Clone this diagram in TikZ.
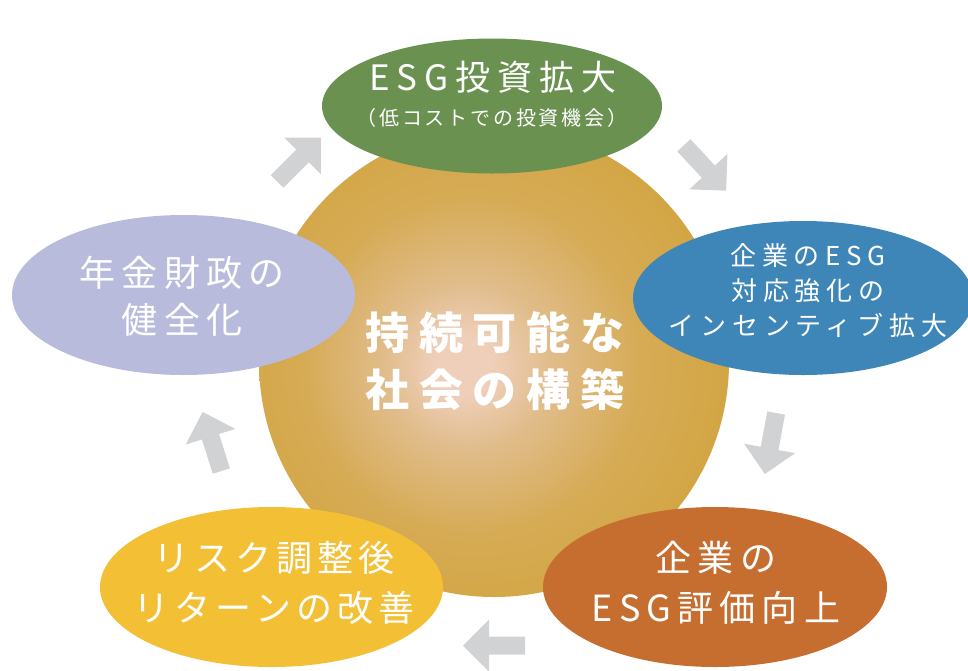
\documentclass[tikz,border=0pt]{standalone}
\usepackage{fontspec}
\usetikzlibrary{shapes.geometric}
\newfontfamily\jp{Noto Sans CJK JP}
\definecolor{cgreen}{HTML}{6A9150}
\definecolor{cblue}{HTML}{3F86B8}
\definecolor{clav}{HTML}{B9BBDC}
\definecolor{cyellow}{HTML}{F3BF35}
\definecolor{corange}{HTML}{C56E30}
\definecolor{cgold}{HTML}{D2A43F}
\definecolor{cgoldlight}{HTML}{D6AB55}
\definecolor{cmid}{HTML}{E0BC8A}
\definecolor{cpeach}{HTML}{EFCFBA}
\definecolor{cgray}{HTML}{D1D2D4}
\pgfdeclareradialshading{glow}{\pgfpoint{-3.5bp}{-0.5bp}}{color(0bp)=(cpeach); color(3bp)=(cpeach); color(9bp)=(cmid); color(18bp)=(cgoldlight); color(29bp)=(cgold); color(50bp)=(cgold)}
\tikzset{
  bubble/.style={ellipse, draw=none, inner sep=0pt},
  wtext/.style={text=white, align=center, inner sep=0pt},
  pics/garrow/.style={code={
    \fill[cgray] (-31,-9) -- (5,-9) -- (5,-26) -- (31,0) -- (5,26) -- (5,9) -- (-31,9) -- cycle;}}
}
\begin{document}
\begin{tikzpicture}[x=1pt,y=-1pt]
\useasboundingbox (0,0) rectangle (968,670);
% central circle
\node[circle, minimum size=470pt, inner sep=0pt, shading=glow] (core) at (494,362) {};
% arrows
\pic[rotate=45] (a1) at (299,159.5) {garrow};
\pic[rotate=-47] (a2) at (705,168) {garrow};
\pic[rotate=-100.5] (a3) at (770.5,443.5) {garrow};
\pic[rotate=180] (a4) at (494,645.5) {garrow};
\pic[rotate=107.5] (a5) at (212,441.5) {garrow};
% ellipses
\node[bubble, fill=cgreen, minimum width=340pt, minimum height=135pt] (esg) at (492,106) {};
\node[bubble, fill=cblue, minimum width=340pt, minimum height=154pt] (inc) at (803,298) {};
\node[bubble, fill=corange, minimum width=344pt, minimum height=160pt] (eval) at (715,587) {};
\node[bubble, fill=cyellow, minimum width=343pt, minimum height=160pt] (ret) at (271.5,587) {};
\node[bubble, fill=clav, minimum width=343pt, minimum height=160pt] (pen) at (183.5,295) {};
% texts
\node[wtext, font={\jp\bfseries\fontsize{44}{57}\selectfont\addfontfeature{LetterSpace=22}}] (coretext) at (495,361.5) {持続可能な\\社会の構築};
\node[wtext, font={\jp\fontsize{35}{40}\selectfont\addfontfeature{LetterSpace=20}}] (esgtitle) at (493,77) {ESG投資拡大};
\node[wtext, font={\jp\fontsize{20}{24}\selectfont\addfontfeature{LetterSpace=14}}] (esgsub) at (492,118) {（低コストでの投資機会）};
\node[wtext, font={\jp\fontsize{26}{35}\selectfont\addfontfeature{LetterSpace=22}}] (inctext) at (808,291) {企業のESG\\対応強化の\\インセンティブ拡大};
\node[wtext, font={\jp\fontsize{36}{50}\selectfont\addfontfeature{LetterSpace=17}}] (evaltext) at (716,583) {企業の\\ESG評価向上};
\node[wtext, font={\jp\fontsize{36}{50}\selectfont\addfontfeature{LetterSpace=14}}] (rettext) at (274,583) {リスク調整後\\リターンの改善};
\node[wtext, font={\jp\fontsize{36}{47}\selectfont\addfontfeature{LetterSpace=18}}] (pentext) at (182,296.5) {年金財政の\\健全化};
\end{tikzpicture}
\end{document}
